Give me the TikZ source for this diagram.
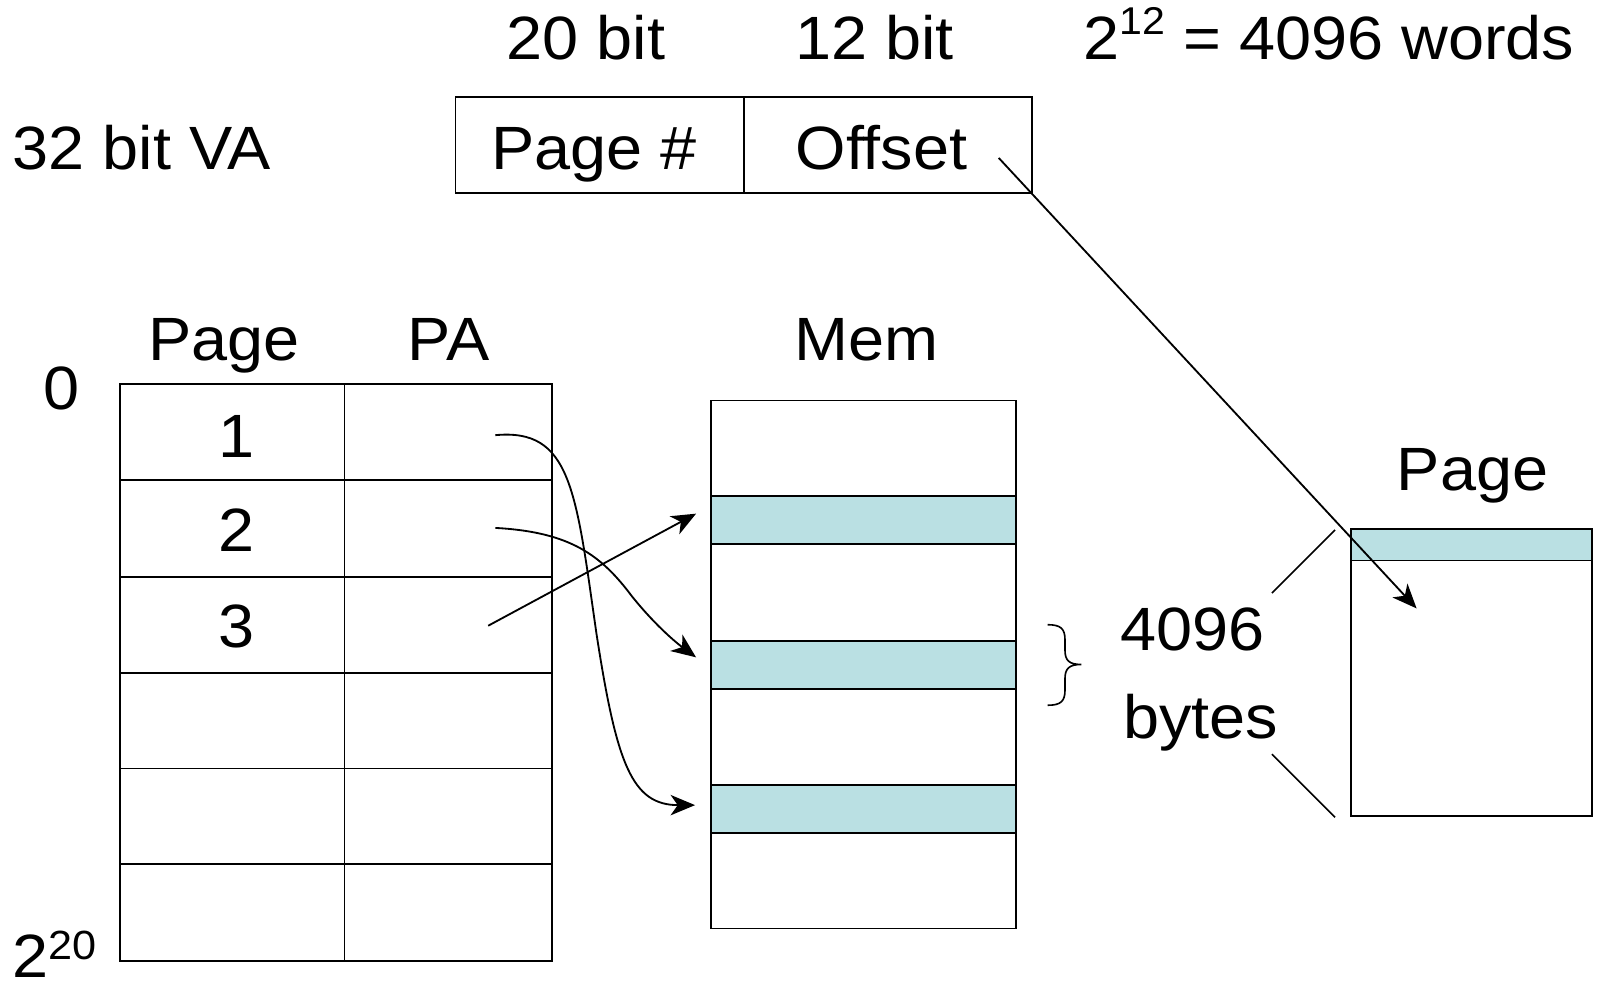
\documentclass[tikz,border=0pt]{standalone}
\usepackage{fontspec}
\setmainfont{Liberation Sans}[FakeStretch=1.06]
\usetikzlibrary{arrows.meta}
\definecolor{band}{HTML}{BAE0E3}
\newcommand\supA[1]{\raisebox{12pt}{\fontsize{19}{20}\selectfont #1}}
\newcommand\supB[1]{\raisebox{9pt}{\fontsize{20}{21}\selectfont #1}}
\begin{document}
\begin{tikzpicture}[x=0.5pt,y=-0.5pt,
  box/.style={draw=black,line width=0.9pt},
  shaded/.style={draw=black,line width=0.9pt,fill=band},
  lbl/.style={inner sep=0pt,anchor=base,font=\fontsize{30}{36}\selectfont},
  conn/.style={line width=0.9pt,-{Stealth[length=12pt,width=10pt,inset=3.5pt]}},
  thin/.style={line width=0.8pt}]
\useasboundingbox (0,0) rectangle (1568,969);
% top labels
\node[lbl] (b20) at (575,58) {20 bit};
\node[lbl] (b12) at (858,58) {12 bit};
\node[lbl,anchor=base west] (words) at (1063,58) {2\supA{12} = 4096 words};
\node[lbl,anchor=base west] (va) at (12,166) {32 bit VA};
% VA box
\draw[box] (447,95) rectangle (1013,189);
\draw[box] (730,95) -- (730,189);
\node[lbl] (pnum) at (583,166) {Page \#};
\node[lbl] (off) at (865,166) {Offset};
\coordinate (offs) at (980,155);
% page table
\node[lbl] (hpage) at (220,354) {Page};
\node[lbl] (hpa) at (440,354) {PA};
\node[lbl] (zero) at (60,402) {0};
\node[lbl,anchor=base west] (top) at (12,959) {2\supB{20}};
\draw[box] (118,377) rectangle (542,943);
\draw[box] (338,377) -- (338,943);
\foreach \y in {471,566,660,754,848} \draw[box] (118,\y) -- (542,\y);
\node[lbl] (r1) at (232,449) {1};
\node[lbl] (r2) at (232,541) {2};
\node[lbl] (r3) at (232,635) {3};
\coordinate (pa1) at (486,427);
\coordinate (pa2) at (486,518);
\coordinate (pa3) at (479,614);
% memory
\node[lbl] (hmem) at (850,354) {Mem};
\draw[box] (698,393) rectangle (997,911);
\draw[shaded] (698,487) rectangle (997,534);
\draw[shaded] (698,629) rectangle (997,676);
\draw[shaded] (698,770) rectangle (997,817);
\coordinate (m1) at (683,504);
\coordinate (m2) at (683,645);
\coordinate (m3) at (682,790);
% brace
\draw[thin] (1028,613) .. controls (1041,613) and (1045,617) .. (1045,628) -- (1045,638)
  .. controls (1045,648) and (1049,652) .. (1061,652)
  .. controls (1049,652) and (1045,656) .. (1045,666) -- (1045,677)
  .. controls (1045,688) and (1041,692) .. (1028,692);
% right page
\node[lbl] (rpage) at (1445,481) {Page};
\draw[box] (1326,519) rectangle (1562,801);
\draw[shaded] (1326,519) rectangle (1562,550);
\node[lbl] (n4096) at (1170,638) {4096};
\node[lbl] (bytes) at (1178,725) {bytes};
\coordinate (ptgt) at (1390,597);
\draw[thin] (1248,582) -- (1310,520);
\draw[thin] (1248,740) -- (1310,802);
% arrows
\draw[conn] (offs) -- (ptgt);
\draw[conn] (pa3) -- (m1);
\draw[conn] (pa2) .. controls (560,522) and (590,545) .. (620,585) .. controls (640,610) and (660,628) .. (m2);
\draw[conn] (pa1) .. controls (560,420) and (565,480) .. (585,620) .. controls (605,750) and (620,790) .. (m3);
\end{tikzpicture}
\end{document}
